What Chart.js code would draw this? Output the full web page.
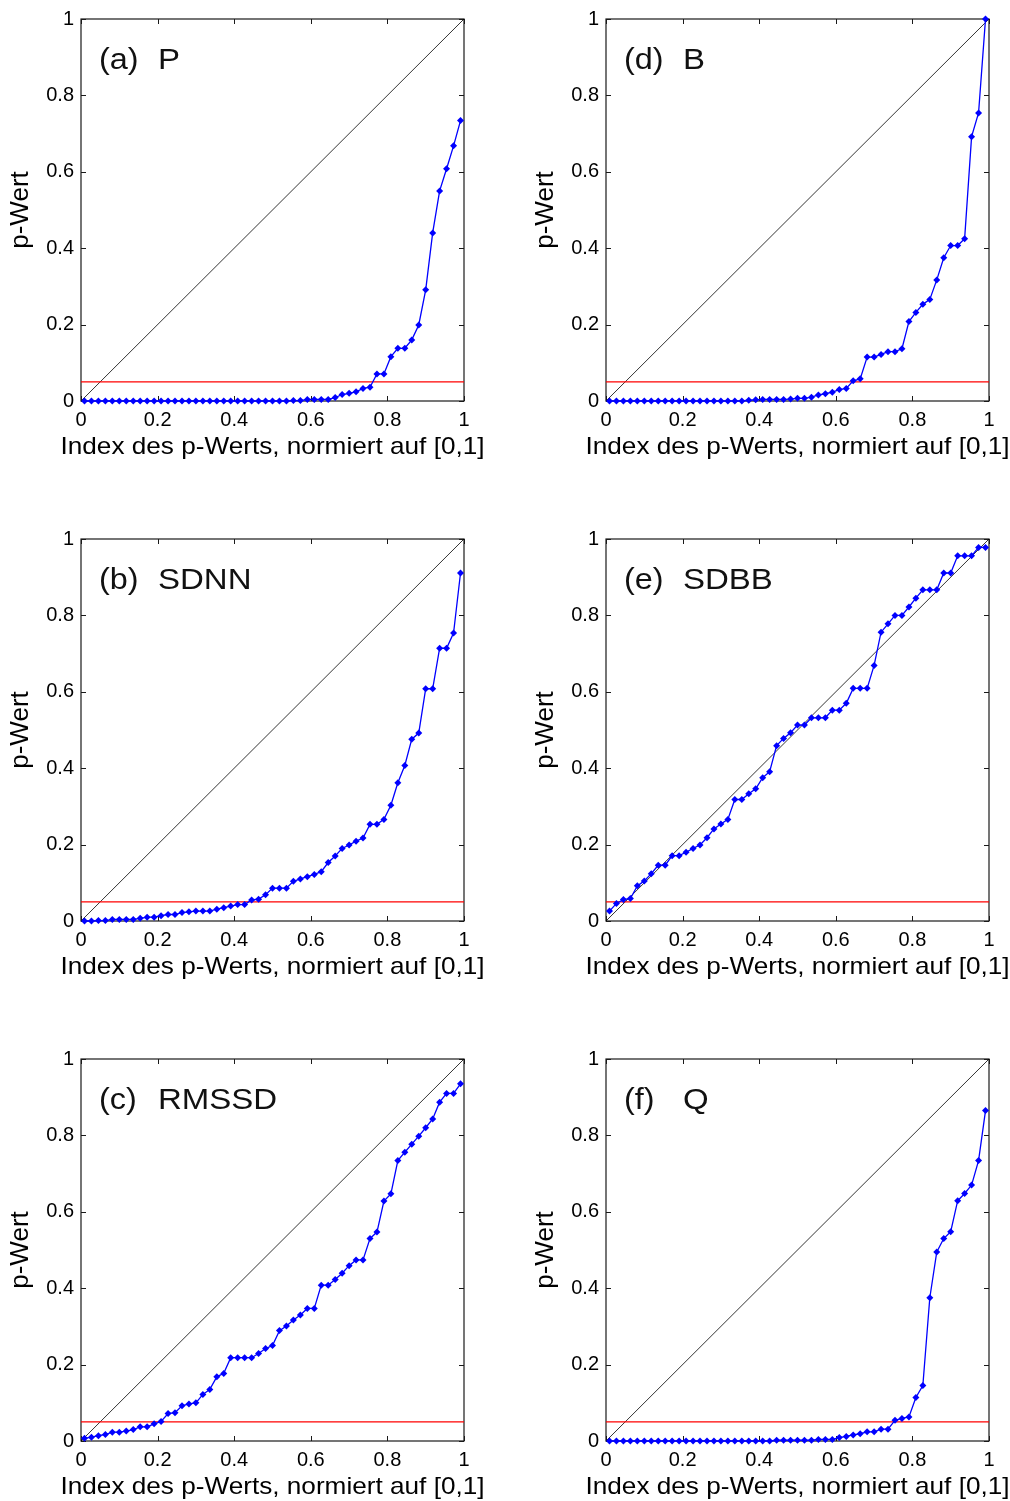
<!DOCTYPE html>
<html>
<head>
<meta charset="utf-8">
<script src="https://cdn.jsdelivr.net/npm/chart.js@4.4.1/dist/chart.umd.min.js"></script>
<style>
  html, body { margin: 0; padding: 0; background: #fff; overflow: hidden; }
  #wrap { position: relative; width: 1010px; height: 1501px; background: #fff; }
  canvas { position: absolute; }
</style>
</head>
<body>
<div id="wrap">
  <canvas id="c0" width="485" height="461" style="left:0px;top:0px"></canvas>
  <canvas id="c1" width="485" height="461" style="left:525px;top:0px"></canvas>
  <canvas id="c2" width="485" height="461" style="left:0px;top:520px"></canvas>
  <canvas id="c3" width="485" height="461" style="left:525px;top:520px"></canvas>
  <canvas id="c4" width="485" height="461" style="left:0px;top:1040px"></canvas>
  <canvas id="c5" width="485" height="461" style="left:525px;top:1040px"></canvas>
</div>
<script>
// ---------------- data ----------------
const tickValues = [0, 0.2, 0.4, 0.6, 0.8, 1];
const xTickLabels = ['0', '0.2', '0.4', '0.6', '0.8', '1'];
const yTickLabels = ['0', '0.2', '0.4', '0.6', '0.8', '1'];
const xTitle = 'Index des p-Werts, normiert auf [0,1]';
const yTitle = 'p-Wert';
const threshold = 0.05;
const nValues = 55;
// normalised index of each sorted p-value
const pIndex = Array.from({length: nValues}, (_, i) => (i + 0.5) / nValues);

const panelLetters = ['(a)', '(d)', '(b)', '(e)', '(c)', '(f)'];
const panelNames = ['P', 'B', 'SDNN', 'SDBB', 'RMSSD', 'Q'];

const pValuesP = [0,0,0,0,0,0,0,0,0,0, 0,0,0,0,0,0,0,0,0,0, 0,0,0,0,0,0,0,0,0,0,
  0.001,0.001,0.004,0.004,0.004,0.004,0.009,0.017,0.02,0.024,
  0.033,0.036,0.071,0.071,0.116,0.138,0.138,0.16,0.199,0.291,
  0.44,0.55,0.608,0.668,0.734];
const pValuesB = [0,0,0,0,0,0,0,0,0,0, 0,0,0,0,0,0,0,0,0,0,
  0.002,0.003,0.004,0.004,0.004,0.004,0.005,0.007,0.007,0.01,
  0.016,0.019,0.023,0.03,0.033,0.053,0.058,0.115,0.115,0.122,
  0.129,0.129,0.137,0.208,0.232,0.253,0.266,0.317,0.375,0.407,
  0.407,0.425,0.692,0.754,1.0];
const pValuesSDNN = [0,0,0.001,0.001,0.004,0.004,0.004,0.004,0.007,0.01,
  0.01,0.014,0.017,0.017,0.022,0.024,0.026,0.026,0.026,0.031,
  0.035,0.039,0.043,0.043,0.055,0.057,0.069,0.086,0.086,0.086,
  0.104,0.11,0.116,0.122,0.129,0.153,0.17,0.19,0.199,0.209,
  0.217,0.253,0.253,0.266,0.303,0.362,0.407,0.476,0.492,0.608,
  0.608,0.714,0.714,0.754,0.911];
const pValuesSDBB = [0.026,0.046,0.056,0.059,0.092,0.105,0.124,0.146,0.146,0.171,
  0.171,0.18,0.19,0.199,0.218,0.241,0.254,0.266,0.318,0.318,
  0.333,0.346,0.375,0.391,0.459,0.478,0.493,0.513,0.513,0.532,
  0.532,0.532,0.552,0.552,0.57,0.609,0.609,0.609,0.669,0.756,
  0.778,0.8,0.8,0.822,0.845,0.867,0.867,0.867,0.911,0.911,
  0.956,0.956,0.956,0.978,0.978];
const pValuesRMSSD = [0.007,0.01,0.014,0.017,0.023,0.023,0.026,0.03,0.037,0.037,
  0.045,0.051,0.072,0.074,0.092,0.097,0.1,0.122,0.135,0.168,
  0.177,0.218,0.218,0.218,0.218,0.229,0.242,0.25,0.289,0.301,
  0.317,0.33,0.347,0.347,0.408,0.408,0.423,0.439,0.459,0.474,
  0.474,0.53,0.547,0.628,0.647,0.734,0.756,0.777,0.798,0.82,
  0.843,0.887,0.91,0.91,0.935];
const pValuesQ = [0,0,0,0,0,0,0,0,0,0, 0,0,0,0,0,0,0,0,0,0, 0,0,0,0,
  0.002,0.002,0.002,0.002,0.002,0.002,0.004,0.004,0.004,0.009,
  0.012,0.016,0.019,0.024,0.024,0.031,0.031,0.054,0.059,0.063,
  0.114,0.145,0.375,0.495,0.53,0.548,0.629,0.648,0.67,0.734,0.865];

const panelSeries = [pValuesP, pValuesB, pValuesSDNN, pValuesSDBB, pValuesRMSSD, pValuesQ];

// ---------------- drawing ----------------
const FONT = '"Liberation Sans", Arial, Helvetica, sans-serif';
Chart.defaults.font.family = FONT;

const framePlugin = {
  id: 'frameTicks',
  beforeDatasetsDraw(chart) {
    const {ctx, chartArea: a, scales: {x, y}} = chart;
    ctx.save();
    ctx.strokeStyle = '#1a1a1a';
    ctx.lineWidth = 1.2;
    ctx.strokeRect(a.left, a.top, a.right - a.left, a.bottom - a.top);
    ctx.lineWidth = 1;
    ctx.beginPath();
    tickValues.forEach(v => {
      const px = Math.round(x.getPixelForValue(v)) + 0.5;
      ctx.moveTo(px, a.bottom); ctx.lineTo(px, a.bottom - 5);
      ctx.moveTo(px, a.top); ctx.lineTo(px, a.top + 5);
      const py = Math.round(y.getPixelForValue(v)) + 0.5;
      ctx.moveTo(a.left, py); ctx.lineTo(a.left + 5, py);
      ctx.moveTo(a.right, py); ctx.lineTo(a.right - 5, py);
    });
    ctx.stroke();
    ctx.restore();
  },
  afterDraw(chart, args, opts) {
    const {ctx, chartArea: a} = chart;
    ctx.save();
    ctx.fillStyle = '#111';
    // panel label
    ctx.font = '30px ' + FONT;
    ctx.textAlign = 'left';
    ctx.textBaseline = 'alphabetic';
    ctx.save();
    ctx.translate(a.left + 18, a.top + 50);
    ctx.scale(1.08, 1);
    ctx.fillText(opts.letter, 0, 0);
    ctx.restore();
    ctx.save();
    ctx.translate(a.left + 77, a.top + 50);
    ctx.scale(1.1, 1);
    ctx.fillText(opts.name, 0, 0);
    ctx.restore();
    // x axis title
    ctx.fillStyle = '#000';
    ctx.font = '24px ' + FONT;
    ctx.textAlign = 'center';
    ctx.translate((a.left + a.right) / 2, a.bottom + 53);
    ctx.scale(1.09, 1);
    ctx.fillText(opts.xTitle, 0, 0);
    ctx.restore();
  }
};

function makeChart(idx) {
  const values = panelSeries[idx];
  const ctx = document.getElementById('c' + idx);
  new Chart(ctx, {
    type: 'line',
    data: {
      datasets: [
        {
          label: 'diagonal',
          data: [{x: 0, y: 0}, {x: 1, y: 1}],
          borderColor: '#000',
          borderWidth: 0.8,
          pointRadius: 0,
          order: 3
        },
        {
          label: 'p = 0.05',
          data: [{x: 0, y: threshold}, {x: 1, y: threshold}],
          borderColor: '#ff0000',
          borderWidth: 1.3,
          pointRadius: 0,
          order: 2
        },
        {
          label: panelNames[idx],
          data: pIndex.map((xv, i) => ({x: xv, y: values[i]})),
          borderColor: '#0000ff',
          backgroundColor: '#0000ff',
          borderWidth: 1.3,
          pointStyle: 'rectRot',
          pointRadius: 3.5,
          pointBorderWidth: 0,
          clip: false,
          order: 1
        }
      ]
    },
    options: {
      responsive: false,
      devicePixelRatio: 1,
      animation: false,
      events: [],
      layout: {padding: {left: 0, right: 21, top: 19, bottom: 0}},
      plugins: {
        legend: {display: false},
        tooltip: {enabled: false},
        frameTicks: {letter: panelLetters[idx], name: panelNames[idx], xTitle: xTitle}
      },
      scales: {
        x: {
          type: 'linear', min: 0, max: 1, position: 'bottom',
          afterBuildTicks: s => { s.ticks = tickValues.map(v => ({value: v})); },
          afterFit: s => { s.height = 60; },
          ticks: {
            color: '#000', padding: 7, maxRotation: 0, autoSkip: false,
            font: {size: 20},
            callback: (v) => xTickLabels[tickValues.findIndex(t => Math.abs(t - v) < 1e-9)]
          },
          grid: {display: true, drawOnChartArea: false, drawTicks: false},
          border: {display: false},
          title: {display: false, text: xTitle}
        },
        y: {
          type: 'linear', min: 0, max: 1, position: 'left',
          afterBuildTicks: s => { s.ticks = tickValues.map(v => ({value: v})); },
          afterFit: s => { s.width = 81; },
          ticks: {
            color: '#000', padding: 7, autoSkip: false,
            font: {size: 20},
            callback: (v) => yTickLabels[tickValues.findIndex(t => Math.abs(t - v) < 1e-9)]
          },
          grid: {display: true, drawOnChartArea: false, drawTicks: false},
          border: {display: false},
          title: {display: true, text: yTitle, color: '#000', font: {size: 26}, padding: {top: 5, bottom: 0}}
        }
      }
    },
    plugins: [framePlugin]
  });
}

for (let i = 0; i < 6; i++) makeChart(i);
</script>
</body>
</html>
